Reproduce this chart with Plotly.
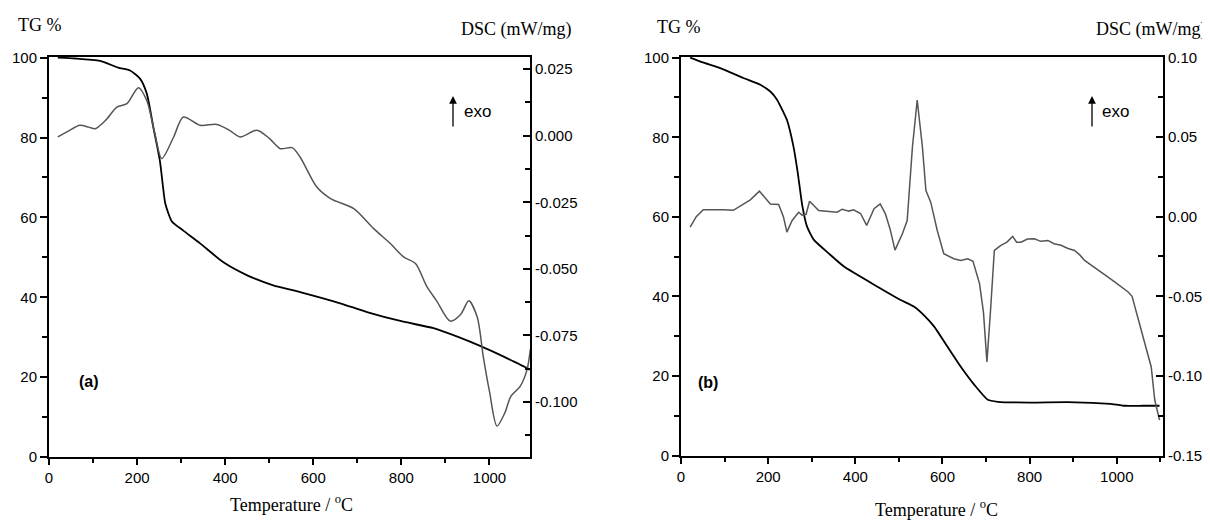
import plotly.graph_objects as go

# ---------------- data ----------------
# Panel (a)
tg_a_temp = [20, 60, 116, 157, 184, 207, 222, 237, 252, 259, 264, 279, 305, 343, 396, 450,
             509, 570, 661, 722, 800, 873, 930, 980, 1025, 1086, 1091]
tg_a_val = [100, 99.8, 99.2, 97.5, 96.8, 94.7, 91, 82.5, 74, 67.5, 63.5, 59, 56.7, 53.5, 48.75,
            45.5, 43, 41.3, 38.5, 36.3, 34.0, 32.25, 30.0, 27.75, 25.5, 22.2, 21.8]

dsc_a_temp = [20, 45, 70, 90, 105, 130, 154, 177, 203, 222, 240, 256, 283, 305, 343, 381, 410,
              434, 472, 500, 525, 552, 570, 608, 639, 692, 737, 775, 805, 832, 858, 880, 911,
              935, 953, 972, 986, 1000, 1017, 1035, 1048, 1070, 1085, 1093]
dsc_a_val = [-0.0005, 0.0018, 0.0039, 0.0032, 0.0026, 0.006, 0.0107, 0.012, 0.018, 0.0132,
             0.001, -0.0086, -0.0005, 0.007, 0.0039, 0.0042, 0.002, -0.0005, 0.002, -0.001,
             -0.0049, -0.0045, -0.008, -0.0193, -0.0236, -0.0274, -0.0349, -0.0405, -0.0455,
             -0.048, -0.0567, -0.062, -0.0696, -0.067, -0.062, -0.068, -0.083, -0.096, -0.109,
             -0.104, -0.098, -0.094, -0.088, -0.080]

# Panel (b)
tg_b_temp = [21, 50, 90, 143, 182, 205, 220, 235, 243, 258, 268, 278, 289, 305, 340, 374, 450,
             504, 535, 560, 581, 610, 642, 675, 704, 727, 800, 888, 964, 1000, 1017, 1060, 1098]
tg_b_val = [100, 98.8, 97.4, 94.9, 93.2, 91.5, 89.5, 86.3, 84.4, 77.7, 71, 63, 57.6, 54.2, 50.7,
            47.5, 42.5, 39.1, 37.4, 35, 32.4, 27.6, 22.3, 17.5, 14.0, 13.5, 13.3, 13.4, 13.1,
            12.8, 12.5, 12.5, 12.5]

dsc_b_temp = [21, 35, 51, 75, 97, 120, 140, 159, 180, 195, 205, 224, 235, 243, 255, 270, 278,
              287, 295, 316, 340, 358, 370, 385, 396, 412, 426, 443, 457, 469, 480, 491, 508,
              519, 531, 542, 554, 562, 573, 588, 603, 626, 642, 658, 670, 685, 694, 702, 710,
              719, 734, 748, 761, 770, 780, 795, 811, 825, 842, 856, 872, 888, 903, 915, 926,
              945, 964, 980, 995, 1010, 1026, 1035, 1056, 1068, 1079, 1087, 1098]
dsc_b_val = [-0.0066, 0.0, 0.0043, 0.0045, 0.0043, 0.0040, 0.0075, 0.0106, 0.016, 0.011, 0.008,
             0.0077, 0.0, -0.0097, -0.0024, 0.0028, 0.001, 0.0015, 0.0097, 0.0039, 0.0035,
             0.0028, 0.0047, 0.0035, 0.0043, 0.002, -0.0055, 0.005, 0.008, 0.0018, -0.008,
             -0.021, -0.0107, -0.0024, 0.0436, 0.0733, 0.0436, 0.0164, 0.0091, -0.0087,
             -0.0233, -0.0264, -0.0275, -0.0264, -0.028, -0.042, -0.060, -0.0912, -0.060,
             -0.0212, -0.018, -0.016, -0.0124, -0.016, -0.016, -0.014, -0.0139, -0.0155,
             -0.0149, -0.017, -0.018, -0.020, -0.0212, -0.024, -0.0275, -0.031, -0.0348,
             -0.038, -0.041, -0.044, -0.0473, -0.050, -0.0713, -0.085, -0.0944, -0.115, -0.1278]

# Tick labels
temp_ticks = [0, 200, 400, 600, 800, 1000]
temp_minor = [100, 300, 500, 700, 900, 1100]
tg_ticks = [0, 20, 40, 60, 80, 100]
tg_minor = [10, 30, 50, 70, 90]
dsc_a_ticks = [0.025, 0.0, -0.025, -0.05, -0.075, -0.1]
dsc_a_text = ["0.025", "0.000", "-0.025", "-0.050", "-0.075", "-0.100"]
dsc_a_minor = [0.0125, -0.0125, -0.0375, -0.0625, -0.0875, -0.1125]
dsc_b_ticks = [0.10, 0.05, 0.0, -0.05, -0.10, -0.15]
dsc_b_text = ["0.10", "0.05", "0.00", "-0.05", "-0.10", "-0.15"]
dsc_b_minor = [0.075, 0.025, -0.025, -0.075, -0.125]

# ---------------- figure ----------------
# the page places the figure 8px from the top-left corner (body margin)
OFF = 8
W, H = 1210 - OFF, 522 - OFF


def px(x):
    return (x - OFF) / W


def py(y):
    return 1 - (y - OFF) / H


TG_COLOR = "black"
DSC_COLOR = "#555555"
TICKFONT = dict(family="Liberation Sans, Arial, sans-serif", size=15, color="black")
SERIF = dict(family="Liberation Serif, Times New Roman, serif", size=18, color="black")

fig = go.Figure()
fig.add_trace(go.Scatter(x=tg_a_temp, y=tg_a_val, mode="lines", xaxis="x", yaxis="y",
                         line=dict(color=TG_COLOR, width=1.8, shape="spline", smoothing=0.6),
                         showlegend=False))
fig.add_trace(go.Scatter(x=dsc_a_temp, y=dsc_a_val, mode="lines", xaxis="x", yaxis="y2",
                         line=dict(color=DSC_COLOR, width=1.5, shape="spline", smoothing=0.8),
                         showlegend=False))
fig.add_trace(go.Scatter(x=tg_b_temp, y=tg_b_val, mode="lines", xaxis="x2", yaxis="y3",
                         line=dict(color=TG_COLOR, width=1.8, shape="spline", smoothing=0.5),
                         showlegend=False))
fig.add_trace(go.Scatter(x=dsc_b_temp, y=dsc_b_val, mode="lines", xaxis="x2", yaxis="y4",
                         line=dict(color=DSC_COLOR, width=1.5),
                         showlegend=False))

ydom_a = [py(457), py(56.5)]
ydom_b = [py(455.5), py(56.5)]

common_x = dict(showline=True, linewidth=2, linecolor="black", mirror=True, showgrid=False,
                zeroline=False, ticks="outside", ticklen=6, tickwidth=1.5, tickcolor="black",
                tickmode="array", tickvals=temp_ticks, tickfont=TICKFONT, automargin=False,
                minor=dict(tickmode="array", tickvals=temp_minor, ticks="outside", ticklen=4,
                           tickwidth=1.5, tickcolor="black", showgrid=False))
common_tg = dict(showline=True, linewidth=2, linecolor="black", showgrid=False, zeroline=False,
                 ticks="outside", ticklen=7, tickwidth=1.5, tickcolor="black", range=[0, 100.3],
                 tickmode="array", tickvals=tg_ticks, tickfont=TICKFONT, automargin=False,
                 minor=dict(tickmode="array", tickvals=tg_minor, ticks="outside", ticklen=5,
                            tickwidth=1.5, tickcolor="black", showgrid=False))
common_dsc = dict(showline=True, linewidth=2, linecolor="black", showgrid=False, zeroline=False,
                  ticks="inside", ticklen=7, tickwidth=1.5, tickcolor="black", side="right",
                  tickmode="array", tickfont=TICKFONT, automargin=False)

fig.update_layout(
    width=W, height=H, autosize=False,
    margin=dict(l=0, r=0, t=0, b=0, autoexpand=False),
    paper_bgcolor="white", plot_bgcolor="white",
    xaxis=dict(domain=[px(49), px(530)], range=[0, 1092], anchor="y", **common_x),
    yaxis=dict(domain=ydom_a, anchor="x", **common_tg),
    yaxis2=dict(overlaying="y", anchor="x", range=[-0.1206, 0.0297],
                tickvals=dsc_a_ticks, ticktext=dsc_a_text,
                minor=dict(tickmode="array", tickvals=dsc_a_minor, ticks="inside", ticklen=5,
                           tickwidth=1.5, tickcolor="black", showgrid=False),
                **common_dsc),
    xaxis2=dict(domain=[px(681), px(1163)], range=[0, 1106], anchor="y3", **common_x),
    yaxis3=dict(domain=ydom_b, anchor="x2", **common_tg),
    yaxis4=dict(overlaying="y3", anchor="x2", range=[-0.15, 0.1006],
                tickvals=dsc_b_ticks, ticktext=dsc_b_text,
                minor=dict(tickmode="array", tickvals=dsc_b_minor, ticks="inside", ticklen=5,
                           tickwidth=1.5, tickcolor="black", showgrid=False),
                **common_dsc),
)

ann = []


def text(t, x, y, font, xanchor="center"):
    ann.append(dict(text=t, x=px(x), y=py(y), xref="paper", yref="paper", showarrow=False,
                    xanchor=xanchor, yanchor="middle", font=font))


text("TG %", 40, 25, SERIF)
text("DSC (mW/mg)", 516, 30, SERIF)
text("TG %", 679, 27, SERIF)
text("DSC (mW/mg)", 1151, 30, SERIF)
text("Temperature / <sup>o</sup>C", 291, 503, SERIF)
text("Temperature / <sup>o</sup>C", 936, 508, SERIF)
BOLD = dict(family="Liberation Sans, Arial, sans-serif", size=16, color="black", weight="bold")
text("<b>(a)</b>", 89, 381, BOLD)
text("<b>(b)</b>", 708, 382, BOLD)
EXO = dict(family="Liberation Sans, Arial, sans-serif", size=17, color="black")
text("exo", 462, 112, EXO, xanchor="left")
text("exo", 1100, 112, EXO, xanchor="left")

for ax_x in (453, 1092):
    ann.append(dict(text="", x=px(ax_x), y=py(96), xref="paper", yref="paper",
                    showarrow=True, ax=0, ay=32, arrowhead=2, arrowsize=1.2, arrowwidth=1.3,
                    arrowcolor="black", standoff=0, startstandoff=0))

fig.update_layout(annotations=ann)

fig.write_html("out.html")
